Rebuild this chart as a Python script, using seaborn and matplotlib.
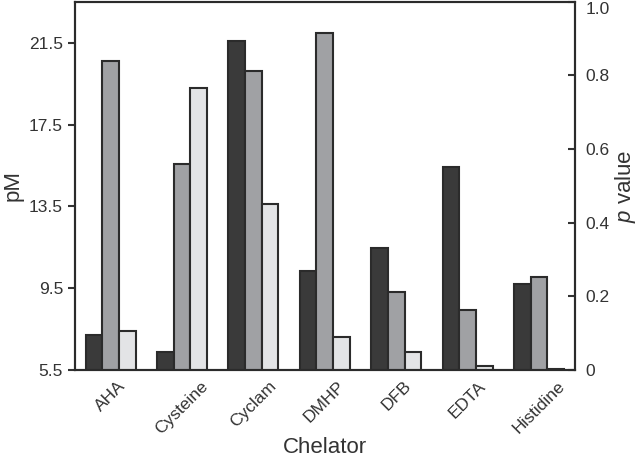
import matplotlib
matplotlib.use("Agg")
import matplotlib.pyplot as plt
import seaborn as sns
import pandas as pd

# data
chelators = ["AHA", "Cysteine", "Cyclam", "DMHP", "DFB", "EDTA", "Histidine"]
pm_values = [7.2, 6.4, 21.6, 10.35, 11.45, 15.45, 9.7]     # left axis (pM)
p_mid = [0.838, 0.559, 0.813, 0.915, 0.213, 0.163, 0.254]   # right axis (p value)
p_light = [0.106, 0.765, 0.451, 0.090, 0.048, 0.011, 0.004]  # right axis (p value)

series_order = ["pM", "p_mid", "p_light"]
colors = {"pM": "#3a3a3a", "p_mid": "#a0a1a4", "p_light": "#e3e4e6"}

df = pd.concat([
    pd.DataFrame({"Chelator": chelators, "series": "pM", "value": pm_values}),
    pd.DataFrame({"Chelator": chelators, "series": "p_mid", "value": p_mid}),
    pd.DataFrame({"Chelator": chelators, "series": "p_light", "value": p_light}),
])

sns.set_style("ticks")
plt.rcParams["font.family"] = ["Liberation Sans", "DejaVu Sans"]
plt.rcParams["mathtext.fontset"] = "custom"
plt.rcParams["mathtext.it"] = "Liberation Sans:italic"
plt.rcParams["mathtext.rm"] = "Liberation Sans"

fig = plt.figure(figsize=(6.4, 4.62), dpi=100)
ax = fig.add_axes([0.117, 0.199, 0.781, 0.797])
ax2 = ax.twinx()

edge = "#2b2b2b"
# same grouped layout on both axes, then keep only the bars that belong to each axis
for a in (ax, ax2):
    sns.barplot(data=df, x="Chelator", y="value", hue="series", hue_order=series_order,
                order=chelators, palette=colors, width=0.7, edgecolor=edge, linewidth=1.5,
                legend=False, ax=a)
for bar in ax.containers[1]:
    bar.remove()
for bar in ax.containers[2]:
    bar.remove()
for bar in ax2.containers[0]:
    bar.remove()

ax.set_xlim(-0.5, 6.5)
ax.set_ylim(5.5, 23.5)
ax.set_yticks([5.5, 9.5, 13.5, 17.5, 21.5])
ax.set_yticklabels(["5.5", "9.5", "13.5", "17.5", "21.5"])
ax2.set_ylim(0, 1.0)
ax2.set_yticks([0, 0.2, 0.4, 0.6, 0.8, 1.0])
ax2.set_yticklabels(["0", "0.2", "0.4", "0.6", "0.8", "1.0"])
ax2.get_yticklabels()[-1].set_va("top")

txt = "#333333"
ax.set_xlabel("Chelator", fontsize=16, color=txt, labelpad=0)
ax.set_ylabel("pM", fontsize=16, color=txt, labelpad=4)
ax2.set_ylabel(r"$p$ value", fontsize=16, color=txt, labelpad=2)
ax2.set_xlabel("")

ax.tick_params(axis="x", length=0, labelsize=12.5, colors=txt, pad=6)
ax.tick_params(axis="y", direction="out", length=5, width=1.5, labelsize=12.5, colors=txt)
ax2.tick_params(axis="y", direction="in", length=5, width=1.5, labelsize=12.5, colors=txt, pad=8)
plt.setp(ax.get_xticklabels(), rotation=45, ha="center")

for a in (ax, ax2):
    for s in a.spines.values():
        s.set_linewidth(1.5)
        s.set_color("#2b2b2b")

fig.savefig("out.png", dpi=100)
